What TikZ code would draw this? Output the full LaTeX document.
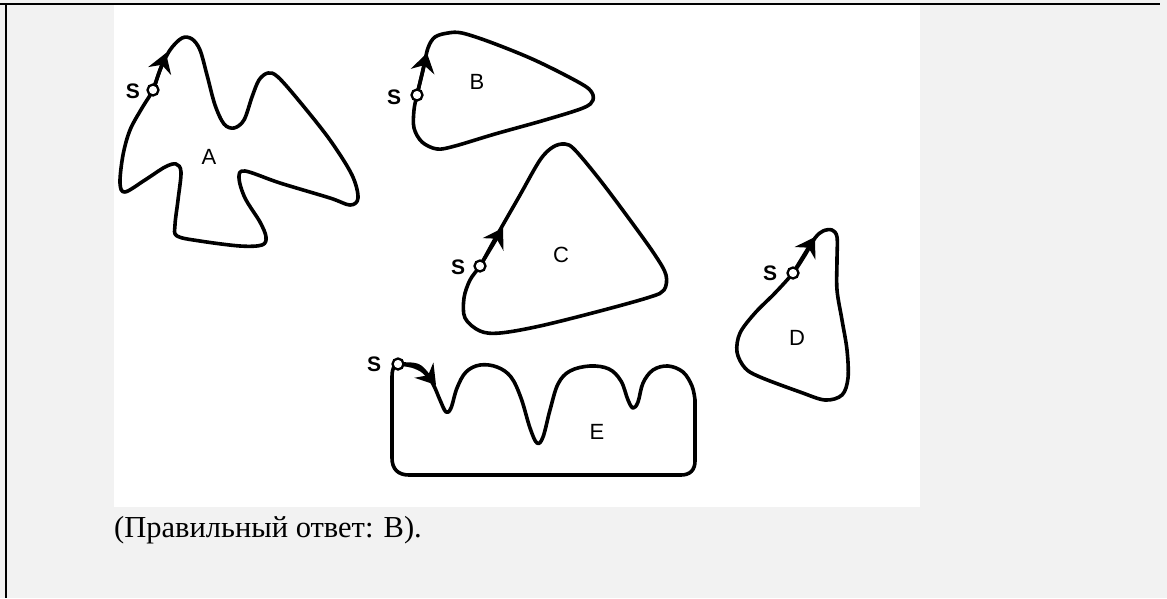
\documentclass[tikz,border=0pt]{standalone}
\usepackage{fontspec}
\setmainfont{Liberation Serif}
\newfontfamily\lblfont{Liberation Sans}
\usetikzlibrary{arrows.meta}
\definecolor{pagebg}{HTML}{F2F2F2}
\tikzset{
  curve/.style={line width=3.6pt, line join=round, line cap=round},
  arr/.style={line width=3.6pt, -{Stealth[length=19pt,width=24pt,inset=6.5pt]}},
  scirc/.style={circle, draw, fill=white, line width=2.3pt, inner sep=0pt, minimum size=11pt},
  slab/.style={font=\lblfont\bfseries\fontsize{21}{21}\selectfont, inner sep=0pt},
  letter/.style={font=\lblfont\fontsize{22}{22}\selectfont, inner sep=0pt},
  frameline/.style={line width=2.2pt}
}
\begin{document}
\begin{tikzpicture}[x=1pt,y=-1pt]
\useasboundingbox (0,0) rectangle (1167,598);
\fill[pagebg] (0,0) rectangle (1167,598);
\fill[white] (114,5) rectangle (920,507);
\draw[frameline] (0,4) -- (1160,4);
\draw[frameline] (6,4) -- (6,598);

% start points
\coordinate (pA) at (153,90);
\coordinate (pB) at (417,95);
\coordinate (pC) at (480,266);
\coordinate (pD) at (793,273);
\coordinate (pE) at (398,364);
% arrow tips
\coordinate (tA) at (166,53);
\coordinate (tB) at (427,53);
\coordinate (tC) at (503,228);
\coordinate (tD) at (815,237);

% shape A
\draw[curve] plot[smooth cycle, tension=0.55] coordinates {
 (153,90) (160,70) (170,50) (182,38) (192,39) (200,50) (207,75) (215,105)
 (224,124) (234,128) (244,120) (252,97) (259,80) (268,73) (278,77) (300,102)
 (330,140) (352,175) (358,198) (350,205) (330,198) (280,183) (245,171)
 (239,178) (245,198) (260,222) (266,237) (262,245) (240,246) (200,241)
 (177,236) (175,225) (178,200) (181,172) (176,164) (165,167) (145,180)
 (125,192) (120,183) (123,155) (130,130) (142,108)};
% shape B
\draw[curve] plot[smooth cycle, tension=0.55] coordinates {
 (417,95) (423,70) (428,48) (435,37) (448,33) (462,33) (490,42) (530,58)
 (565,75) (589,89) (593,100) (583,108) (545,120) (495,134) (455,146)
 (437,149) (422,142) (414,128) (414,110)};
% shape C
\draw[curve] plot[smooth cycle, tension=0.55] coordinates {
 (480,266) (490,248) (500,230) (520,195) (540,160) (553,147) (565,144)
 (575,150) (600,180) (630,220) (655,255) (666,275) (664,290) (650,297)
 (600,311) (540,326) (500,333) (480,331) (465,318) (464,298) (470,280)};
% shape D
\draw[curve] plot[smooth cycle, tension=0.55] coordinates {
 (793,273) (805,255) (815,238) (823,231) (832,230) (837,237) (837,260)
 (837,290) (842,320) (847,350) (848,378) (842,395) (825,400) (800,392)
 (760,377) (745,368) (737,352) (740,333) (755,313) (775,293)};
% shape E
\draw[curve] plot[smooth, tension=0.6] coordinates {
 (398,364) (412,366) (424,372) (433,384) (440,400) (446,412) (451,408)
 (457,388) (466,372) (480,365) (497,367) (511,377) (521,398) (530,428)
 (537,443) (543,437) (550,410) (558,384) (570,371) (590,366) (609,369)
 (621,381) (628,400) (633,408) (638,402) (643,383) (653,370) (668,366)
 (683,372) (692,386) (695,400)}
 -- (695,461) .. controls (695,470) and (690,475) .. (681,475)
 -- (409,475) .. controls (398,475) and (392,469) .. (392,458)
 -- (392,377) .. controls (392,369) and (394,364) .. (398,364);

% arrows
\draw[arr] (pA) -- (tA);
\draw[arr] (pB) -- (tB);
\draw[arr] (pC) -- (tC);
\draw[arr] (pD) -- (tD);
\draw[arr] (pE) .. controls (419,364) .. (436,385);

% start circles
\node[scirc] (sA) at (pA) {};
\node[scirc] (sB) at (pB) {};
\node[scirc] (sC) at (pC) {};
\node[scirc] (sD) at (pD) {};
\node[scirc] (sE) at (pE) {};

% S labels
\node[slab] (lsA) at (133,91) {S};
\node[slab] (lsB) at (394,97) {S};
\node[slab] (lsC) at (458,267) {S};
\node[slab] (lsD) at (770,273) {S};
\node[slab] (lsE) at (374,364) {S};

% letters
\node[letter] (lA) at (209,157) {A};
\node[letter] (lB) at (477,82) {B};
\node[letter] (lC) at (561,255) {C};
\node[letter] (lD) at (797,338) {D};
\node[letter] (lE) at (597,432) {E};

% caption
\node[anchor=base west, inner sep=0pt, font=\fontsize{30.5}{30.5}\selectfont] (cap) at (114,537) {(Правильный ответ: В).};
\end{tikzpicture}
\end{document}
